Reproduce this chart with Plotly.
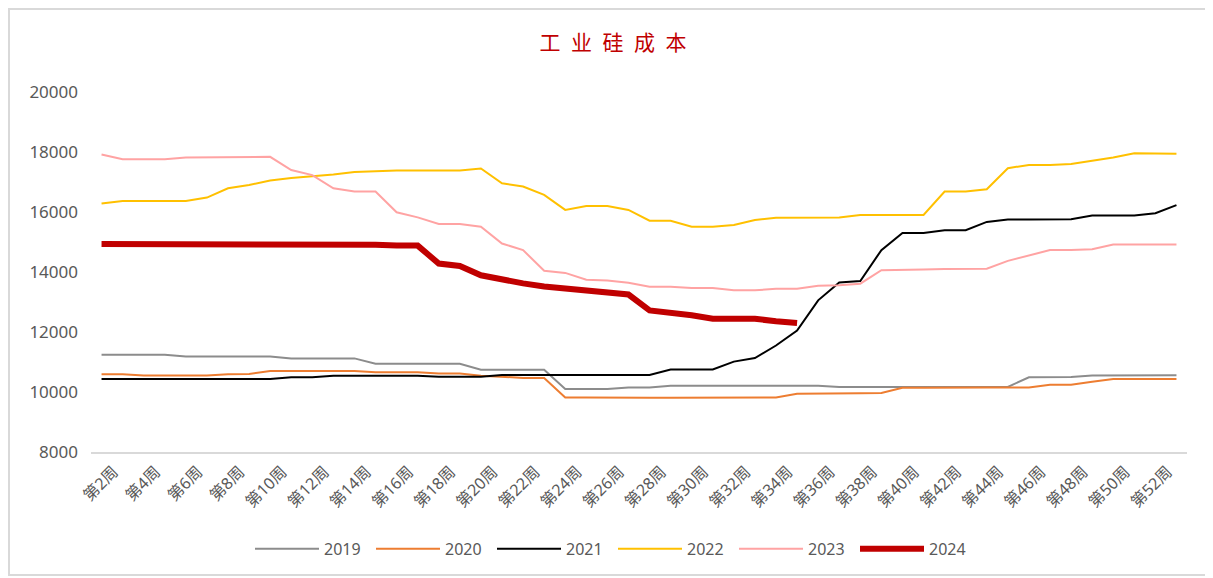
import plotly.graph_objects as go

weeks = [f"第{w}周" for w in range(2, 54)]
tick_labels = [f"第{w}周" for w in range(2, 53, 2)]
y_ticks = [8000, 10000, 12000, 14000, 16000, 18000, 20000]

s2019 = [11240, 11240, 11240, 11240, 11180, 11180, 11180, 11180, 11180, 11120,
         11120, 11120, 11120, 10940, 10940, 10940, 10940, 10940, 10740, 10740,
         10740, 10740, 10100, 10100, 10100, 10150, 10150, 10210, 10210, 10210,
         10210, 10210, 10210, 10210, 10210, 10170, 10170, 10170, 10170, 10170,
         10170, 10170, 10170, 10170, 10490, 10490, 10500, 10550, 10550, 10550,
         10550, 10560]
s2020 = [10590, 10590, 10550, 10550, 10550, 10550, 10590, 10600, 10700, 10700,
         10700, 10700, 10700, 10660, 10660, 10660, 10620, 10620, 10545, 10510,
         10470, 10470, 9820, 9820, 9810, 9810, 9810, 9810, 9810, 9810,
         9815, 9820, 9820, 9940, 9940, 9950, 9960, 9970, 10140, 10140,
         10150, 10150, 10150, 10150, 10150, 10240, 10240, 10340, 10430, 10430,
         10430, 10430]
s2021 = [10430, 10430, 10430, 10430, 10430, 10430, 10430, 10430, 10430, 10490,
         10490, 10540, 10540, 10540, 10540, 10540, 10510, 10510, 10510, 10570,
         10570, 10570, 10570, 10570, 10570, 10570, 10570, 10750, 10750, 10750,
         11013, 11130, 11550, 12050, 13055, 13650, 13700, 14730, 15300, 15300,
         15390, 15390, 15670, 15750, 15750, 15750, 15760, 15880, 15880, 15880,
         15960, 16230]
s2022 = [16280, 16370, 16370, 16370, 16370, 16480, 16790, 16900, 17050, 17130,
         17180, 17250, 17330, 17360, 17380, 17380, 17380, 17380, 17450, 16960,
         16850, 16570, 16070, 16200, 16200, 16070, 15710, 15710, 15510, 15510,
         15570, 15730, 15810, 15810, 15810, 15820, 15900, 15900, 15900, 15900,
         16680, 16680, 16760, 17460, 17570, 17570, 17600, 17710, 17820, 17960,
         17960, 17940]
s2023 = [17920, 17760, 17760, 17760, 17820, 17820, 17820, 17820, 17840, 17400,
         17230, 16790, 16680, 16680, 15990, 15820, 15600, 15600, 15510, 14950,
         14730, 14040, 13970, 13740, 13720, 13640, 13510, 13510, 13470, 13470,
         13390, 13390, 13440, 13440, 13540, 13560, 13610, 14060, 14060, 14080,
         14100, 14100, 14110, 14370, 14540, 14730, 14730, 14760, 14920, 14920,
         14920, 14920]
s2024 = [14930, 14930, 14930, 14960, 14960, 14960, 14960, 14960, 14960, 14930,
         14930, 14910, 14910, 14910, 14880, 14880, 14280, 14200, 13890, 13730,
         13620, 13520, 13450, 13390, 13330, 13250, 12720, 12650, 12560, 12440,
         12440, 12440, 12360, 12300]

series = [
    ("2019", s2019, "#8C8C8C", 2),
    ("2020", s2020, "#ED7D31", 2),
    ("2021", s2021, "#000000", 2),
    ("2022", s2022, "#FFC000", 2),
    ("2023", s2023, "#FFA3A3", 2),
    ("2024", s2024, "#C00000", 6),
]

fig = go.Figure()
for name, vals, color, width in series:
    fig.add_trace(go.Scatter(
        x=weeks[:len(vals)], y=vals, name=name, mode="lines",
        line=dict(color=color, width=width),
    ))

W, H = 1205, 570
L, T, PW, PH = 83, 84, 1096, 360

fig.update_layout(
    width=W, height=H,
    margin=dict(l=L, r=W - L - PW, t=T, b=H - T - PH, autoexpand=False),
    paper_bgcolor="white", plot_bgcolor="white",
    title=dict(text="工\u2002业\u2002硅\u2002成\u2002本", x=605 / W, xref="container",
               y=1 - 35 / H, yref="container", xanchor="center", yanchor="middle",
               font=dict(family="Noto Sans CJK SC", size=21, color="#C00000")),
    showlegend=True,
    legend=dict(orientation="h", x=(605 - L) / PW, xanchor="center", y=-0.269, yanchor="middle",
                font=dict(family="Noto Sans", size=16, color="#595959"),
                itemwidth=64, entrywidth=42, traceorder="normal"),
    xaxis=dict(type="category", categoryorder="array", categoryarray=weeks,
               range=[-0.5, len(weeks) - 0.5],
               tickmode="array", tickvals=tick_labels, ticktext=tick_labels,
               tickangle=-45, showgrid=False, zeroline=False,
               showline=True, linecolor="#D9D9D9", linewidth=2, ticks="",
               ticklabelshift=12, ticklabelstandoff=2,
               tickfont=dict(family="Noto Sans, Noto Sans CJK SC", size=16, color="#595959")),
    yaxis=dict(range=[8000, 20000], tickmode="array",
               tickvals=y_ticks, ticktext=[str(v) for v in y_ticks],
               showgrid=False, zeroline=False, showline=False, ticks="",
               ticklabelstandoff=12,
               tickfont=dict(family="Noto Sans", size=17, color="#595959")),
    shapes=[dict(type="rect", xref="paper", yref="paper",
                 x0=(1 - L) / PW, x1=(1201 - L) / PW,
                 y0=(T + PH - 567) / PH, y1=(T + PH - 1) / PH,
                 line=dict(color="#D9D9D9", width=2), fillcolor="rgba(0,0,0,0)",
                 layer="below")],
)

fig.write_html("out.html")
